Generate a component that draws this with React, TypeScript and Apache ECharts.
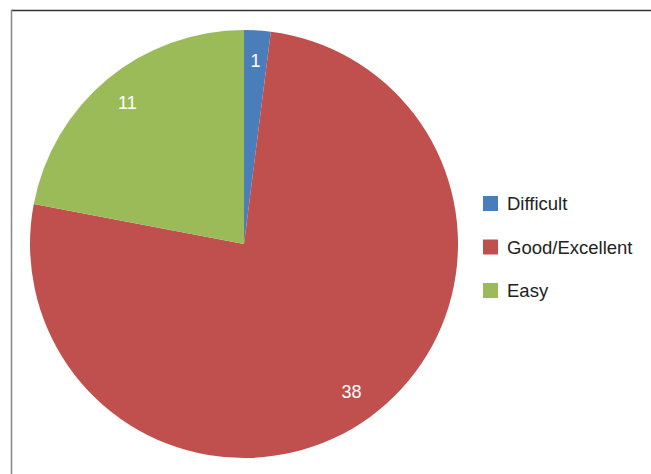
import React, { useEffect, useRef } from "react";
import * as echarts from "echarts";

const categories = ["Difficult", "Good/Excellent", "Easy"];
const values = [1, 38, 11];
const colors = ["#4A7EBB", "#C0504D", "#9BBB59"];

export default function App() {
  const ref = useRef<HTMLDivElement>(null);
  useEffect(() => {
    const chart = echarts.init(ref.current!, undefined, { renderer: "svg" });
    const data = categories.map((name, i) => ({
      name,
      value: values[i],
      itemStyle: { color: colors[i] },
    }));
    chart.setOption({
      animation: false,
      backgroundColor: "#ffffff",
      legend: {
        data: categories,
        orient: "vertical",
        left: 483,
        top: 194,
        padding: 0,
        itemWidth: 15,
        itemHeight: 15,
        itemGap: 24.5,
        icon: "rect",
        selectedMode: false,
        textStyle: {
          fontFamily: "Liberation Sans, Arial, sans-serif",
          fontSize: 18.5,
          lineHeight: 18,
          color: "#222",
          padding: [0, 0, 0, 4],
        },
      },
      graphic: [
        {
          type: "line",
          shape: { x1: 11, y1: 10.5, x2: 651, y2: 10.5 },
          style: { stroke: "#333", lineWidth: 1.5 },
          silent: true,
        },
        {
          type: "line",
          shape: { x1: 11.5, y1: 10, x2: 11.5, y2: 474 },
          style: { stroke: "#888", lineWidth: 1.5 },
          silent: true,
        },
      ],
      series: [
        {
          type: "pie",
          center: [244, 244],
          radius: [0, 214],
          startAngle: 90,
          clockwise: true,
          silent: true,
          label: { show: false },
          labelLine: { show: false },
          itemStyle: { borderWidth: 0 },
          data,
        },
        {
          type: "pie",
          center: [244, 244],
          radius: [146, 214],
          startAngle: 90,
          clockwise: true,
          silent: true,
          legendHoverLink: false,
          itemStyle: { color: "transparent", borderWidth: 0 },
          label: {
            show: true,
            position: "inside",
            formatter: "{c}",
            color: "#ffffff",
            fontSize: 18,
            fontFamily: "Liberation Sans, Arial, sans-serif",
          },
          labelLine: { show: false },
          data: categories.map((name, i) => ({ name, value: values[i] })),
        },
      ],
    });
    return () => chart.dispose();
  }, []);
  return (
    <div
      ref={ref}
      style={{ position: "fixed", left: 0, top: 0, width: 651, height: 474 }}
    />
  );
}
